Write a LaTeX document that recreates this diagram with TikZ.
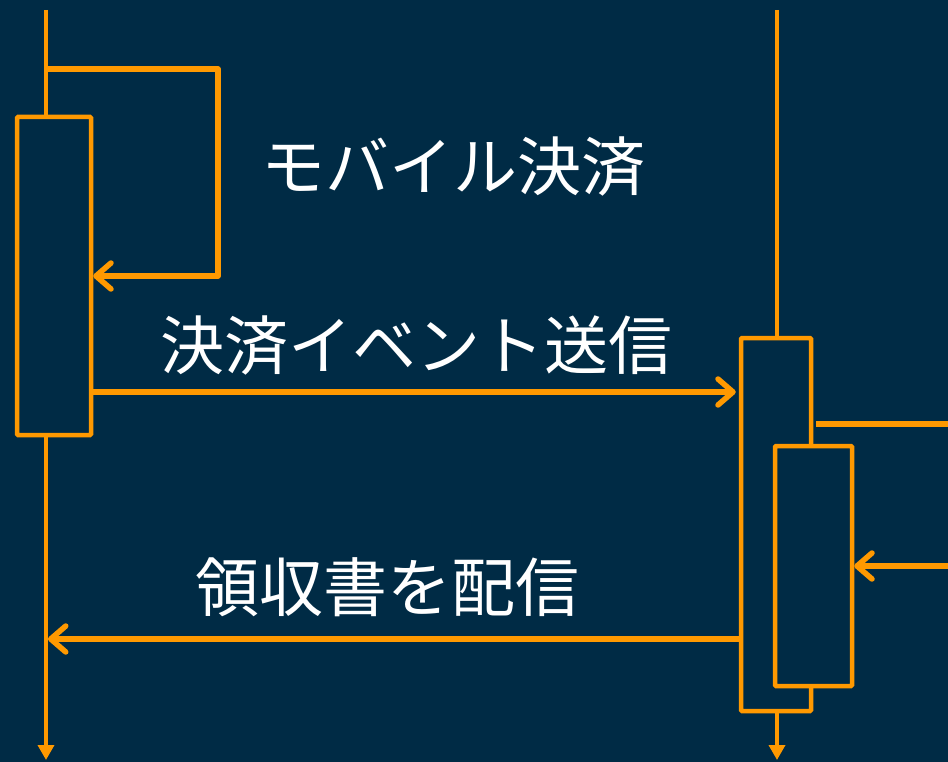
\documentclass[tikz,border=0pt]{standalone}
\usepackage{fontspec}
\newfontfamily\jpfont{Noto Sans CJK JP}
\usetikzlibrary{arrows.meta,positioning}
\definecolor{navy}{HTML}{002B45}
\definecolor{amber}{HTML}{FF9900}

\begin{document}
\begin{tikzpicture}[x=1pt, y=-1pt,
  lifeline/.style={draw=amber, line width=3.5pt, -{Triangle[width=16pt,length=15pt]}},
  act/.style={rectangle, draw=amber, line width=4.5pt, fill=navy, rounded corners=1pt, inner sep=0pt},
  msg/.style={draw=amber, line width=5.5pt, line join=round, -{Straight Barb[length=15pt,width=26pt,line cap=round,line join=round]}},
  wire/.style={draw=amber, line width=5.5pt},
  label/.style={text=white, inner sep=0pt, font=\jpfont\fontsize{64}{72}\selectfont}
  ]
  \fill[navy] (0,0) rectangle (948,762);
  \useasboundingbox (0,0) rectangle (948,762);

  \coordinate (Ltop) at (46,10);
  \coordinate (Lend) at (46,760);
  \coordinate (Rtop) at (777,10);
  \coordinate (Rend) at (777,760);

  \draw[lifeline] (Ltop) -- (Lend);
  \draw[lifeline] (Rtop) -- (Rend);

  \node[act, minimum width=74pt, minimum height=318pt] (A) at (54,276) {};
  \node[act, minimum width=70pt, minimum height=373pt] (B) at (776,524.5) {};
  \node[act, minimum width=77pt, minimum height=240pt] (C) at (813.5,566) {};

  \node[label] (selfmsg) at (453,167) {モバイル決済};
  \node[label] (sendmsg) at (416,345) {決済イベント送信};
  \node[label] (replymsg) at (387,587) {領収書を配信};

  \coordinate (selfout) at (46,69);
  \coordinate (selfturn) at (218,276);
  \coordinate (sendy) at (0,392);
  \coordinate (outR) at (948,424);
  \coordinate (inR) at (948,566);
  \coordinate (replyend) at (48,639);

  \draw[msg] (selfout) -| (selfturn) -- (A.east |- selfturn);
  \draw[msg, shorten >=3pt] (A.east |- sendy) -- (B.west |- sendy);
  \draw[wire, shorten <=3pt] (B.east |- outR) -- (outR);
  \draw[msg] (inR) -- (C.east |- inR);
  \draw[msg] (B.west |- replyend) -- (replyend);
\end{tikzpicture}
\end{document}
